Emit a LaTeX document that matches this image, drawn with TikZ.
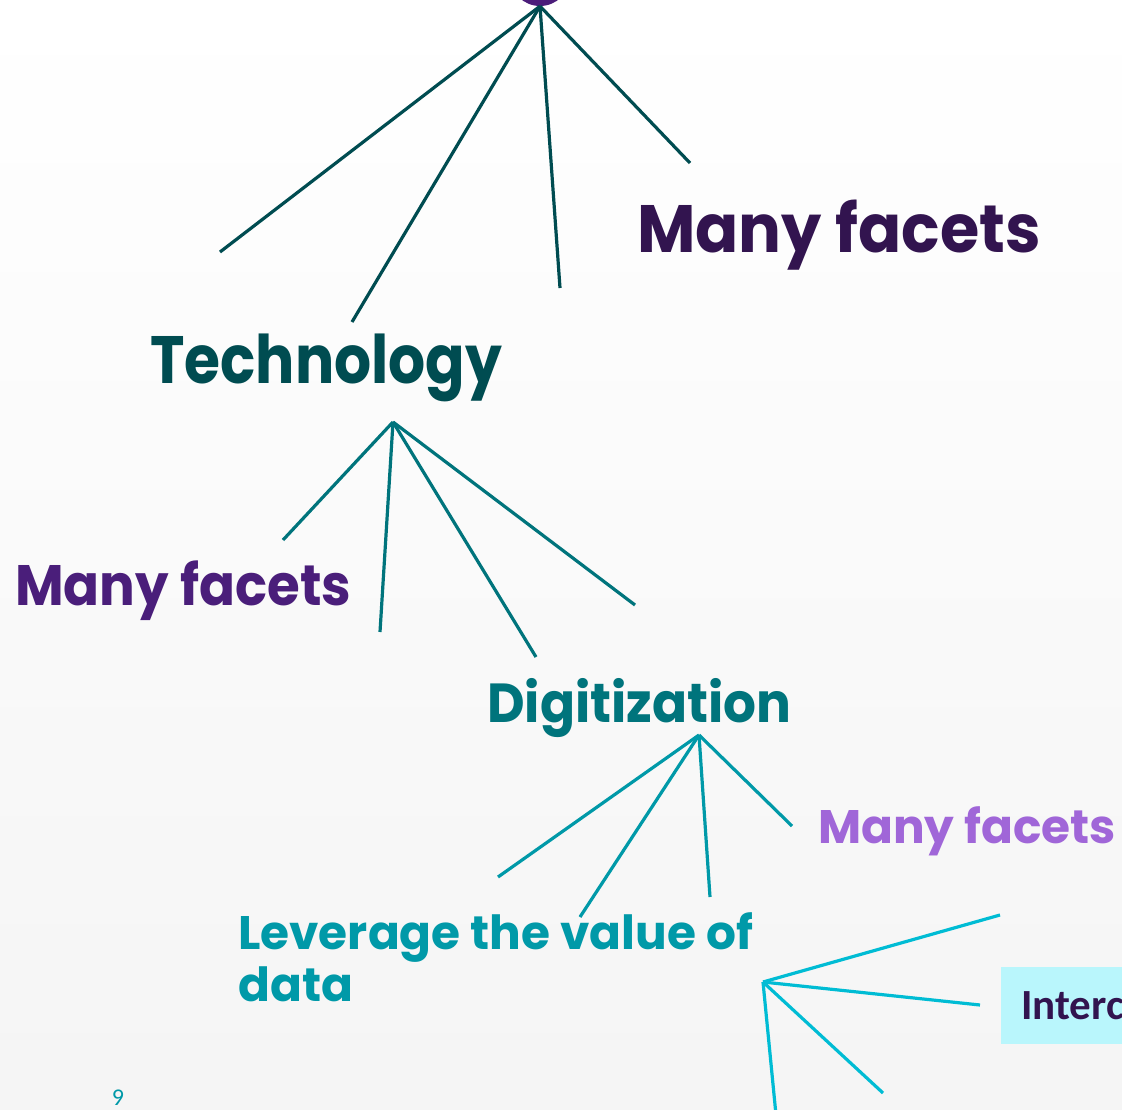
\documentclass[tikz,border=0pt]{standalone}
\usepackage{fontspec}
\usepackage{tikz}
\usetikzlibrary{positioning}
\newfontfamily\dispfont{Poppins}[BoldFont={* Bold}]
\newfontfamily\boxfont{Carlito}
\definecolor{rootpurple}{HTML}{4B1D7A}
\definecolor{darkpurple}{HTML}{32144F}
\definecolor{midpurple}{HTML}{4A1E7A}
\definecolor{lightpurple}{HTML}{A066D8}
\definecolor{deepteal}{HTML}{004C51}
\definecolor{midteal}{HTML}{00747C}
\definecolor{softteal}{HTML}{0099A8}
\definecolor{brightcyan}{HTML}{00BCD4}
\definecolor{paleblue}{HTML}{B9F6FC}

\begin{document}
\begin{tikzpicture}[
    x=1pt, y=-1pt,
    line cap=butt,
    facet/.style={
		anchor=base west,
		inner sep=0pt,
		font=\dispfont\bfseries
	},
	twig/.style={
		line width=3.2pt
	},
	topic/.style={
		rectangle,
		fill=paleblue,
		anchor=north west,
		inner xsep=20pt,
		minimum height=77pt,
		font=\boxfont\bfseries\fontsize{43}{50}\selectfont,
		text=darkpurple
	}
  ]

% // background
\useasboundingbox (0,0) rectangle (1122,1109);
\shade [top color=white, bottom color=black!4] (0,0) rectangle (1122,1109);

% // the root and its branches
\node [circle, fill=rootpurple, minimum size=60pt, inner sep=0pt] (root) at (540,-24) {};

\node [facet, text=darkpurple, font=\dispfont\bfseries\fontsize{67}{70}\selectfont] (facets1) at (637,252) {\scalebox{0.95}[1]{Many facets}};
\node [facet, text=deepteal, font=\dispfont\bfseries\fontsize{67}{70}\selectfont] (tech) at (150,383) {\scalebox{0.87}[1]{Technology}};

\coordinate (r1) at (220,252);
\coordinate (r2) at (352,322);
\coordinate (r3) at (560,288);
\coordinate (r4) at (690,163);
\foreach \e in {r1,r2,r3,r4}
  \draw [twig, deepteal] (root.south) -- (\e);

% // Technology
\coordinate (techhub) at (393,422);
\node [facet, text=midpurple, font=\dispfont\bfseries\fontsize{57}{60}\selectfont] (facets2) at (15,605) {\scalebox{0.93}[1]{Many facets}};
\node [facet, text=midteal, font=\dispfont\bfseries\fontsize{55}{60}\selectfont] (digit) at (487,722) {\scalebox{0.94}[1]{Digitization}};

\coordinate (t1) at (283,540);
\coordinate (t2) at (380,632);
\coordinate (t3) at (536,657);
\coordinate (t4) at (635,605);
\foreach \e in {t1,t2,t3,t4}
  \draw [twig, midteal] (techhub) -- (\e);

% // Digitization
\coordinate (dighub) at (699,735);
\node [facet, text=lightpurple, font=\dispfont\bfseries\fontsize{47}{50}\selectfont] (facets3) at (818,843) {Many facets};
\node [facet, align=left, text=softteal, font=\dispfont\bfseries\fontsize{47}{52}\selectfont] (leverage) at (238,1001) {Leverage the value of\\data};

\coordinate (d1) at (498,877);
\coordinate (d2) at (580,917);
\coordinate (d3) at (710,897);
\coordinate (d4) at (792,826);
\foreach \e in {d1,d2,d3,d4}
  \draw [twig, softteal] (dighub) -- (\e);

% // Leverage the value of data
\coordinate (levhub) at (763,982);
\node [topic] (inter) at (1001,967) {Interc};

\coordinate (l1) at (1000,915);
\coordinate (l2) at (980,1005);
\coordinate (l3) at (883,1093);
\coordinate (l4) at (776,1115);
\foreach \e in {l1,l2,l3,l4}
  \draw [twig, brightcyan] (levhub) -- (\e);

\node [anchor=base, inner sep=0pt, text=softteal, font=\boxfont\fontsize{24}{26}\selectfont] (page) at (118,1105) {9};

\end{tikzpicture}
\end{document}
